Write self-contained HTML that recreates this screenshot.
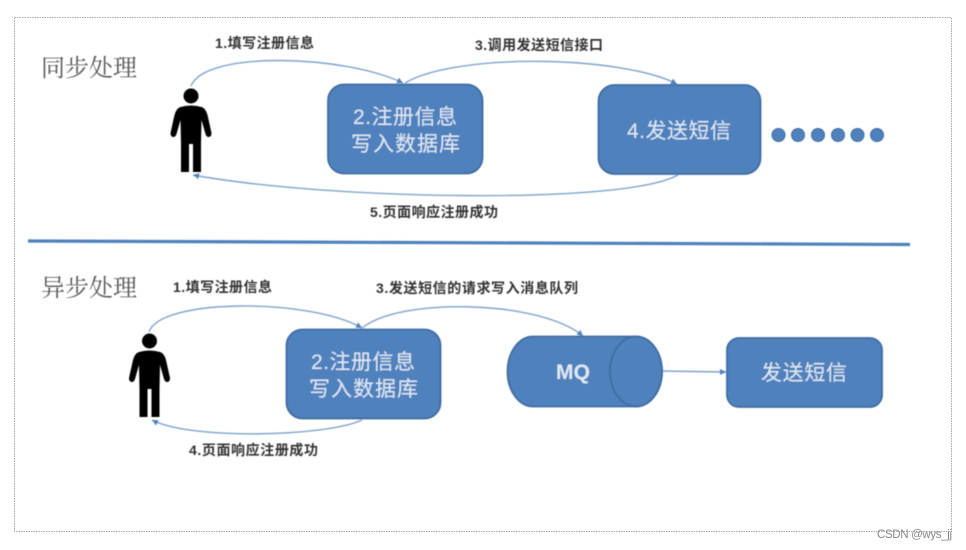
<!DOCTYPE html>
<html><head><meta charset="utf-8"><style>
html,body{margin:0;padding:0;background:#fff}
svg{display:block}
.s{font-family:"Liberation Sans","Noto Sans CJK SC",sans-serif}
.l{font-size:14px;fill:#333;font-weight:700}
.b{font-size:21px;fill:#dfe8f4}
.t{font-family:"Noto Serif CJK SC","Liberation Serif",serif;font-size:24px;fill:#555}
.c{fill:none;stroke:#7fa3cc;stroke-width:1.400}
.bx{fill:#4f81bd;stroke:#3f6ca3;stroke-width:1.800}
</style></head><body>
<svg width="966" height="550" viewBox="0 0 966 550" xmlns="http://www.w3.org/2000/svg">
<defs>
<filter id="bl"><feGaussianBlur stdDeviation="0.6"/></filter>
<marker id="a" markerWidth="8" markerHeight="8" refX="6" refY="3" orient="auto" markerUnits="userSpaceOnUse"><path d="M0 0L6 3L0 6Z" fill="#4f81bd"/></marker>
<g id="p" fill="#000">
<circle cx="0" cy="0" r="7.500"/>
<path d="M-10.500 11Q0 8 10.500 11Q14.500 12 16.500 19L20.500 37Q20.500 41 17.500 41Q15.500 41 14.500 38L10.500 24L10 48V76H2V48H-2V76H-10V48L-10.500 24L-14.500 38Q-15.500 41 -17.500 41Q-20.500 41 -20.500 37L-16.500 19Q-14.500 12 -10.500 11Z"/>
</g>
</defs>
<rect x="14.500" y="17.500" width="937" height="514" fill="none" stroke="#aaa" stroke-width="1" stroke-dasharray="1.500 1"/>
<g filter="url(#bl)">
<path d="M28 241L910 244.500" stroke="#4f81bd" stroke-width="3.200" fill="none"/>

<path class="c" d="M191 86C205 50 345 55 403 83" marker-end="url(#a)"/>
<path class="c" d="M405 83C455 53 620 55 677 84" marker-end="url(#a)"/>
<path class="c" d="M678 175C625 205 330 200 193 175" marker-end="url(#a)"/>
<path class="c" d="M149 332C160 298 310 298 362 328" marker-end="url(#a)"/>
<path class="c" d="M362 328C400 297 540 300 583 336" marker-end="url(#a)"/>
<path class="c" d="M362 420C325 437 190 440 152 420" marker-end="url(#a)"/>
<path class="c" d="M662 371L726 372" marker-end="url(#a)"/>

<rect class="bx" x="328" y="84.500" width="154.500" height="89" rx="16"/>
<rect class="bx" x="598.500" y="85" width="162" height="89" rx="16"/>
<rect class="bx" x="286.500" y="329.500" width="154" height="89" rx="16"/>
<rect class="bx" x="727" y="338" width="155" height="69" rx="12"/>
<path class="bx" d="M636 336.500H533A25.500 35 0 0 0 533 406.500H636A26 35 0 0 0 636 336.500Z"/>
<ellipse class="bx" cx="636" cy="371.500" rx="26" ry="35"/>

<g fill="#4f81bd" stroke="#3f6ca3" stroke-width="1">
<circle cx="778.500" cy="135" r="6.500"/><circle cx="798" cy="135" r="6.500"/><circle cx="818" cy="135" r="6.500"/><circle cx="838" cy="135" r="6.500"/><circle cx="857.500" cy="135" r="6.500"/><circle cx="877" cy="135" r="6.500"/>
</g>
<use href="#p" x="191" y="96"/>
<use href="#p" x="149.500" y="341"/>

<g class="s">
<text class="l" x="215" y="48" textLength="99">1.填写注册信息</text>
<text class="l" x="475" y="50" textLength="128">3.调用发送短信接口</text>
<text class="l" x="370" y="217" textLength="128">5.页面响应注册成功</text>
<text class="l" x="173" y="292" textLength="99">1.填写注册信息</text>
<text class="l" x="376" y="293" textLength="202">3.发送短信的请求写入消息队列</text>
<text class="l" x="189" y="455" textLength="129">4.页面响应注册成功</text>
<text class="b" x="353" y="124" textLength="104">2.注册信息</text>
<text class="b" x="351" y="151" textLength="109">写入数据库</text>
<text class="b" x="627" y="138" textLength="104">4.发送短信</text>
<text class="b" x="311" y="369" textLength="104">2.注册信息</text>
<text class="b" x="309" y="396" textLength="109">写入数据库</text>
<text class="b" x="556" y="379" font-size="19" font-weight="700" textLength="34">MQ</text>
<text class="b" x="761" y="380" textLength="86">发送短信</text>
</g>
<text class="t" x="41" y="76" textLength="96">同步处理</text>
<text class="t" x="41" y="296" textLength="96">异步处理</text>
</g>
<text x="877" y="538" font-family="Liberation Sans, sans-serif" font-size="11.500" fill="#888" textLength="75">CSDN @wys_jj</text>
</svg>
</body></html>
